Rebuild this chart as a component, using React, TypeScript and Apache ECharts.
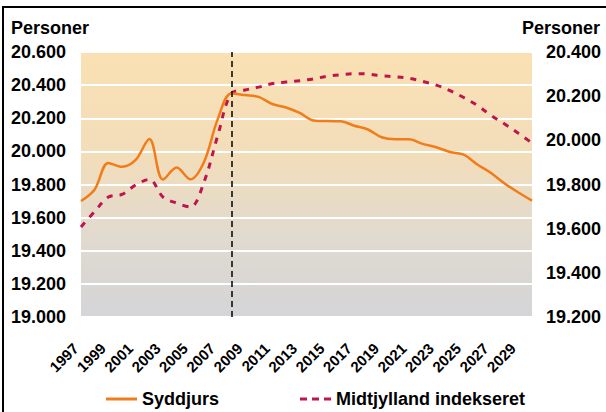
import React, { useEffect, useRef } from "react";
import * as echarts from "echarts";

const years = [
  "1997", "1998", "1999", "2000", "2001", "2002", "2003", "2004", "2005", "2006",
  "2007", "2008", "2009", "2010", "2011", "2012", "2013", "2014", "2015", "2016",
  "2017", "2018", "2019", "2020", "2021", "2022", "2023", "2024", "2025", "2026",
  "2027", "2028", "2029", "2030",
];

const syddjurs = [
  19700, 19770, 19930, 19907, 19948, 20075, 19830, 19902, 19831, 19936,
  20193, 20350, 20340, 20329, 20286, 20265, 20232, 20187, 20183, 20182,
  20155, 20132, 20085, 20073, 20073, 20045, 20025, 19996, 19980, 19921,
  19870, 19806, 19752, 19703,
];

const midtjylland = [
  19608, 19678, 19743, 19755, 19798, 19823, 19743, 19716, 19698, 19811,
  20020, 20212, 20228, 20241, 20257, 20264, 20270, 20278, 20290, 20297,
  20302, 20300, 20292, 20288, 20281, 20267, 20250, 20225, 20194, 20158,
  20113, 20074, 20032, 19988,
];

const seriesNames = ["Syddjurs", "Midtjylland indekseret"];
const axisTitle = "Personer";
const markerYear = "2008";

const FONT = "'Liberation Sans', Arial, sans-serif";
const ORANGE = "#F07D1A";
const CRIMSON = "#C0144C";

function fmt(v: number): string {
  const th = Math.floor(v / 1000);
  const rest = String(Math.round(v % 1000)).padStart(3, "0");
  return th + "." + rest;
}

export default function App() {
  const ref = useRef<HTMLDivElement>(null);
  useEffect(() => {
    if (!ref.current) return;
    const chart = echarts.init(ref.current, null, { renderer: "svg" });
    const labelStyle = {
      color: "#000",
      fontFamily: FONT,
      fontWeight: "bold" as const,
      fontSize: 18,
    };
    chart.setOption({
      animation: false,
      backgroundColor: "#fff",
      grid: {
        left: 81,
        right: 74,
        top: 52,
        bottom: 95,
        show: true,
        borderWidth: 0,
        outerBoundsMode: "none",
        backgroundColor: new echarts.graphic.LinearGradient(0, 0, 0, 1, [
          { offset: 0, color: "#FAE1B3" },
          { offset: 0.4, color: "#F2DDBB" },
          { offset: 0.7, color: "#E0DACF" },
          { offset: 1, color: "#D4D5D8" },
        ]),
      },
      graphic: [
        {
          type: "rect",
          shape: { x: 3, y: 7, width: 700, height: 500 },
          style: { fill: "none", stroke: "#000", lineWidth: 2 },
          silent: true,
        },
        {
          type: "text",
          left: 11,
          top: 19,
          style: { text: axisTitle, fill: "#000", font: `bold 18px ${FONT}` },
        },
        {
          type: "text",
          right: 6,
          top: 19,
          style: { text: axisTitle, fill: "#000", font: `bold 18px ${FONT}`, textAlign: "right" },
        },
      ],
      legend: {
        left: 106,
        top: 390,
        padding: 0,
        itemWidth: 31,
        itemHeight: 3,
        itemGap: 81,
        textStyle: { ...labelStyle, lineHeight: 18 },
        data: [
          { name: seriesNames[0], icon: "rect", itemStyle: { color: ORANGE } },
          {
            name: seriesNames[1],
            icon: "path://M0,0h7v3h-7z M12,0h7v3h-7z M24,0h7v3h-7z",
            itemStyle: { color: CRIMSON },
          },
        ],
      },
      xAxis: {
        type: "category",
        data: years,
        boundaryGap: false,
        axisLine: { show: false },
        axisTick: { show: false },
        splitLine: { show: false },
        axisLabel: {
          interval: 1,
          rotate: 45,
          align: "right",
          verticalAlign: "bottom",
          margin: 34,
          color: "#000",
          fontFamily: FONT,
          fontWeight: "bold",
          fontSize: 15,
        },
      },
      yAxis: [
        {
          type: "value",
          min: 19000,
          max: 20600,
          interval: 200,
          axisLine: { show: false },
          axisTick: { show: false },
          splitLine: { show: true, lineStyle: { color: "#FFFFFF", width: 2 } },
          axisLabel: { ...labelStyle, margin: 15, formatter: fmt },
        },
        {
          type: "value",
          min: 19200,
          max: 20400,
          interval: 200,
          position: "right",
          axisLine: { show: false },
          axisTick: { show: false },
          splitLine: { show: false },
          axisLabel: { ...labelStyle, margin: 14, formatter: fmt },
        },
      ],
      series: [
        {
          name: seriesNames[0],
          type: "line",
          data: syddjurs,
          yAxisIndex: 0,
          symbol: "none",
          smooth: 0.35,
          lineStyle: { color: ORANGE, width: 2.5 },
          itemStyle: { color: ORANGE },
          z: 3,
          markLine: {
            silent: true,
            symbol: "none",
            label: { show: false },
            lineStyle: { color: "#000", type: [6, 4], width: 1.5 },
            data: [{ xAxis: markerYear }],
          },
        },
        {
          name: seriesNames[1],
          type: "line",
          data: midtjylland,
          yAxisIndex: 1,
          symbol: "none",
          smooth: 0.35,
          lineStyle: { color: CRIMSON, width: 3, type: [6, 7] },
          itemStyle: { color: CRIMSON },
          z: 2,
        },
      ],
    });
    return () => chart.dispose();
  }, []);
  return (
    <div
      ref={ref}
      style={{ position: "fixed", left: 0, top: 0, width: 606, height: 412 }}
    />
  );
}
